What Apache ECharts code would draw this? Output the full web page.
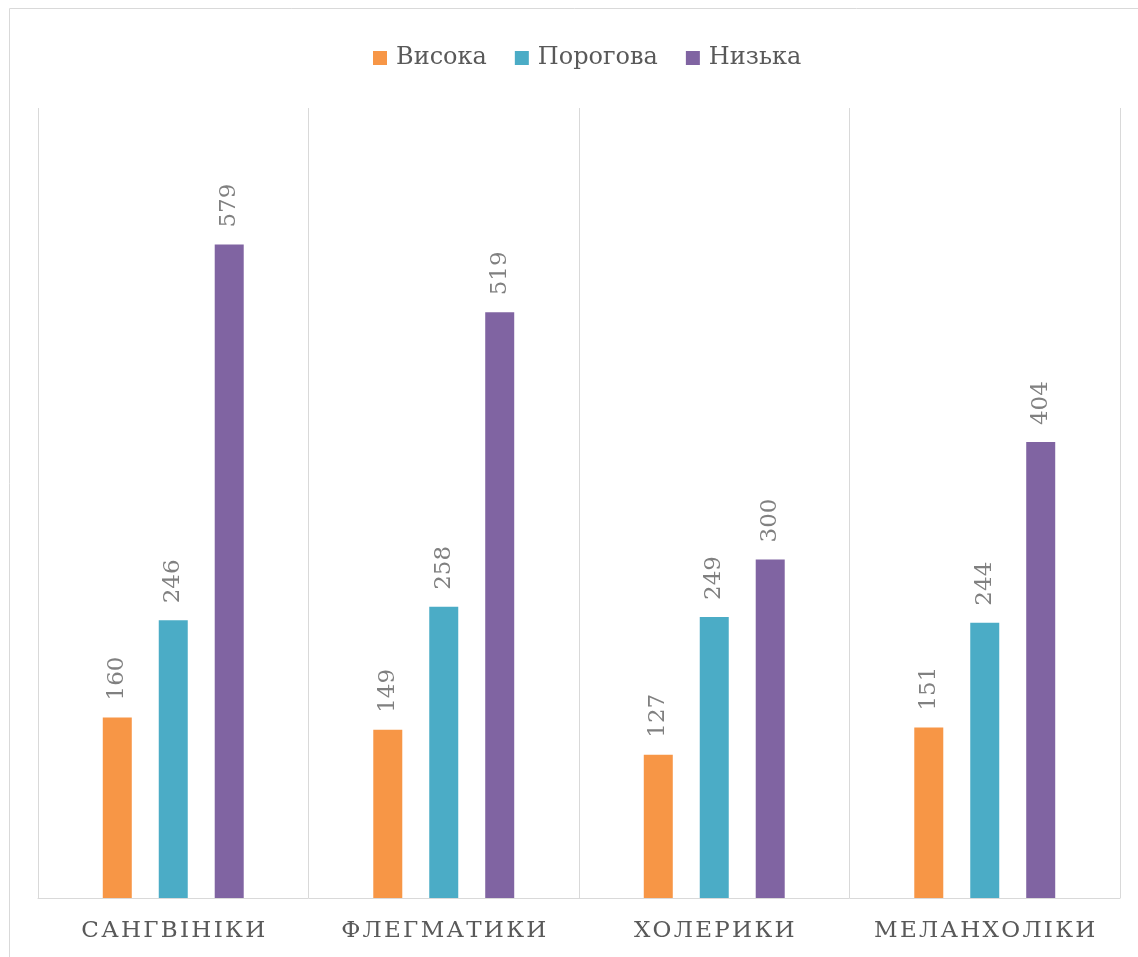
<!DOCTYPE html>
<html><head><meta charset="utf-8">
<script src="https://cdn.jsdelivr.net/npm/echarts@6/dist/echarts.min.js"></script>
<style>html,body{margin:0;padding:0;background:#fff}#c{width:1138px;height:957px}</style>
</head><body><div id="c"></div>
<script>
const categories = ['САНГВІНІКИ', 'ФЛЕГМАТИКИ', 'ХОЛЕРИКИ', 'МЕЛАНХОЛІКИ'];
const seriesNames = ['Висока', 'Порогова', 'Низька'];
const vysoka = [160, 149, 127, 151];
const porohova = [246, 258, 249, 244];
const nyzka = [579, 519, 300, 404];
const colors = ['#F79646', '#4BACC6', '#8064A2'];

const spaced = s => s.split('').join('\u200A');
const font = '"DejaVu Serif", "Liberation Serif", serif';
const chart = echarts.init(document.getElementById('c'));
const mk = (name, data, color) => ({
  name, type: 'bar', data,
  barWidth: 29, barGap: '93%',
  itemStyle: { color },
  label: { show: true, position: 'top', rotate: 90, align: 'left', verticalAlign: 'middle',
    distance: 17, color: '#808080', fontSize: 23, fontFamily: font }
});
chart.setOption({
  animation: false,
  textStyle: { fontFamily: font },
  graphic: [{ type: 'rect', shape: { x: 9.5, y: 8.5, width: 1140, height: 960 },
    style: { fill: 'none', stroke: '#d9d9d9', lineWidth: 1 } }],
  legend: { top: 41, left: 368, icon: 'rect', itemWidth: 14, itemHeight: 14, itemGap: 28,
    textStyle: { color: '#595959', fontSize: 24, fontFamily: font, padding: [0, 0, 0, 4] } },
  grid: { left: 38, right: 18, top: 108, bottom: 59 },
  xAxis: { type: 'category', data: categories,
    axisLine: { lineStyle: { color: '#d9d9d9' } }, axisTick: { show: false },
    splitLine: { show: true, interval: 0, lineStyle: { color: '#d9d9d9' } },
    axisLabel: { interval: 0, color: '#595959', fontSize: 23, margin: 22, fontFamily: font, formatter: v => spaced(v) } },
  yAxis: { type: 'value', min: 0, max: 700, show: false, splitLine: { show: false } },
  series: [mk(seriesNames[0], vysoka, colors[0]), mk(seriesNames[1], porohova, colors[1]), mk(seriesNames[2], nyzka, colors[2])]
});
</script></body></html>
